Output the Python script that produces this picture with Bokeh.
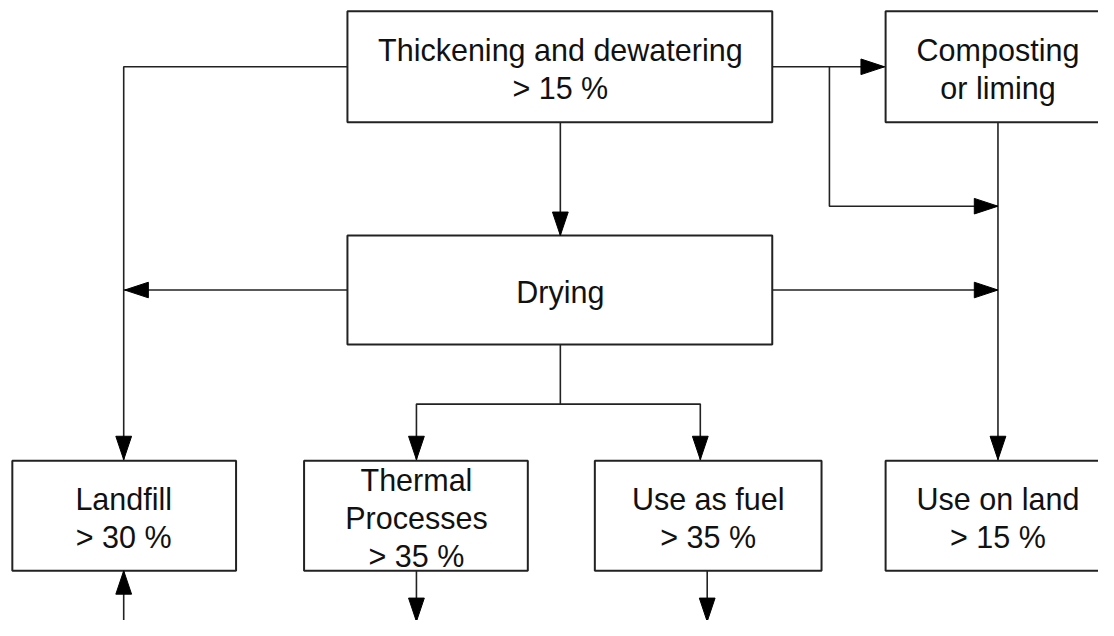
from bokeh.plotting import figure
from bokeh.models import Range1d
from bokeh.core.properties import value
from bokeh.embed import file_html
from bokeh.resources import INLINE

# ---- content ----
box_names = ["thick", "compost", "drying", "landfill", "thermal", "fuel", "land"]
box_labels = [
    ["Thickening and dewatering", "> 15 %"],
    ["Composting", "or liming"],
    ["Drying"],
    ["Landfill", "> 30 %"],
    ["Thermal", "Processes", "> 35 %"],
    ["Use as fuel", "> 35 %"],
    ["Use on land", "> 15 %"],
]

# ---- layout (pixel-like coordinates, y down) ----
box_left = [352, 898, 352, 12, 308, 603, 898]
box_right = [783, 1130, 783, 239, 535, 833, 1130]
box_top = [11, 11, 241, 472, 472, 472, 472]
box_bottom = [125, 125, 353, 585, 585, 585, 585]
text_cx = [568, 1012, 568, 125, 422, 718, 1012]

connectors = [
    [(352, 68), (125, 68), (125, 471)],
    [(568, 125), (568, 241)],
    [(783, 68), (897, 68)],
    [(841, 68), (841, 211), (1012, 211)],
    [(1012, 125), (1012, 471)],
    [(352, 297), (125, 297)],
    [(783, 297), (1012, 297)],
    [(568, 353), (568, 414)],
    [(422, 471), (422, 414), (710, 414), (710, 471)],
    [(125, 645), (125, 585)],
    [(422, 585), (422, 645)],
    [(717, 585), (717, 645)],
]
# arrow tips with direction
arrows = [
    ((125, 471), (0, 1)),
    ((568, 241), (0, 1)),
    ((897, 68), (1, 0)),
    ((1012, 211), (1, 0)),
    ((1012, 471), (0, 1)),
    ((126, 297), (-1, 0)),
    ((1012, 297), (1, 0)),
    ((422, 471), (0, 1)),
    ((710, 471), (0, 1)),
    ((125, 585), (0, -1)),
    ((422, 637), (0, 1)),
    ((717, 637), (0, 1)),
]

W, H = 1098, 620
p = figure(width=W, height=H, output_backend="svg", toolbar_location=None,
           x_range=Range1d(0, 1114), y_range=Range1d(636, 0),
           x_axis_location=None, y_axis_location=None, min_border=0)
p.grid.visible = False
p.outline_line_color = None
p.background_fill_color = "white"

LINE = "#222222"
p.multi_line(xs=[[pt[0] for pt in c] for c in connectors],
             ys=[[pt[1] for pt in c] for c in connectors],
             line_color=LINE, line_width=1.6)

p.quad(left=box_left, right=box_right, top=box_top, bottom=box_bottom,
       fill_color="white", line_color=LINE, line_width=2)

L, HW = 24, 8
axs, ays = [], []
for (tx, ty), (dx, dy) in arrows:
    bx, by = tx - L * dx, ty - L * dy
    nx, ny = -dy, dx
    axs.append([tx, bx + HW * nx, bx - HW * nx])
    ays.append([ty, by + HW * ny, by - HW * ny])
p.patches(xs=axs, ys=ays, fill_color="black", line_color="black", line_width=1)

tx_all, ty_all, tt_all = [], [], []
SP = 39
for i, lines in enumerate(box_labels):
    cy = (box_top[i] + box_bottom[i]) / 2
    n = len(lines)
    for j, s in enumerate(lines):
        tx_all.append(text_cx[i])
        ty_all.append(cy + 2.5 + (j - (n - 1) / 2) * SP)
        tt_all.append(s)
p.text(x=tx_all, y=ty_all, text=tt_all, text_font=value("Liberation Sans"),
       text_font_size="30.5px", text_align="center", text_baseline="alphabetic",
       text_color="#111111")

open("out.html", "w").write(file_html(p, INLINE))
